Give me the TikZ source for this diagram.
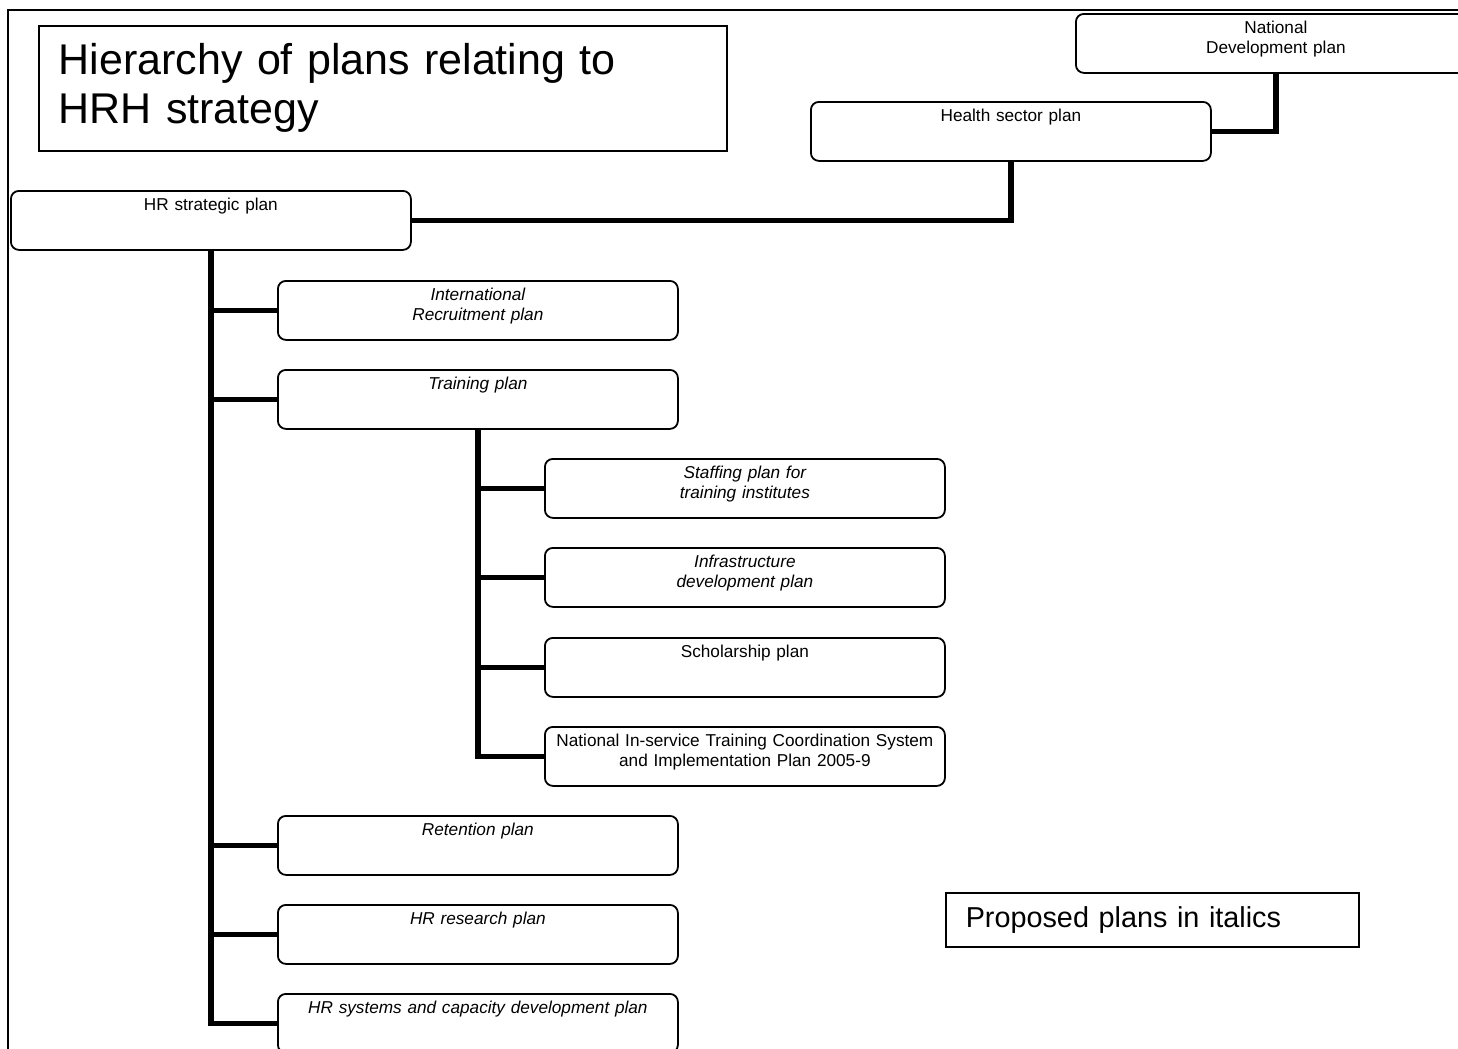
\documentclass[tikz,border=0pt]{standalone}
\usepackage{fontspec}
\setmainfont{Liberation Sans}
\begin{document}
\begin{tikzpicture}[x=0.5pt,y=-0.5pt]
    \tikzstyle{plan}=[draw,rounded corners=4pt,line width=0.9pt,anchor=north west,text width=196pt,inner xsep=2pt,inner ysep=0pt,align=center,text height=10pt,text depth=19.5pt,font=\fontsize{8.6}{10}\selectfont];
    \tikzstyle{proposed}=[plan,font=\fontsize{8.6}{10}\selectfont\itshape];
    \tikzstyle{link}=[line width=2.8pt];
    \tikzstyle{textbox}=[draw,line width=0.75pt,anchor=north west,align=left,inner xsep=10pt];

    \useasboundingbox (0,0) rectangle (1458,1049);
    \clip (0,0) rectangle (1458,1049);
    \draw[line width=0.75pt] (8,1049) -- (8,10) -- (1458,10);

    \node (title) [textbox,minimum height=62.5pt,text width=324pt,font=\fontsize{21.5}{24.5}\selectfont] at (38,25) {Hierarchy of plans relating to\\HRH strategy};
    \node (legend) [textbox,minimum height=27pt,text width=186.5pt,font=\fontsize{14.4}{17}\selectfont] at (945,892) {Proposed plans in italics};

    \node (national) [plan] at (1075,13) {National\\Development plan};
    \node (health) [plan] at (810,101) {Health sector plan};
    \node (hrs) [plan] at (10,190) {HR strategic plan};
    \node (intl) [proposed] at (277,280) {International\\Recruitment plan};
    \node (train) [proposed] at (277,369) {Training plan};
    \node (staff) [proposed] at (544,458) {Staffing plan for\\training institutes};
    \node (infra) [proposed] at (544,547) {Infrastructure\\development plan};
    \node (schol) [plan] at (544,637) {Scholarship plan};
    \node (inserv) [plan] at (544,726) {National In-service Training Coordination System\\and Implementation Plan 2005-9};
    \node (ret) [proposed] at (277,815) {Retention plan};
    \node (res) [proposed] at (277,904) {HR research plan};
    \node (sys) [proposed] at (277,993) {HR systems and capacity development plan};

    \draw[link] (national.south) |- (health.east);
    \draw[link] (health.south) |- (hrs.east);

    \foreach \k in {intl,train,ret,res,sys}{
        \draw[link] (hrs.south) |- (\k.west);
    }

    \foreach \k in {staff,infra,schol,inserv}{
        \draw[link] (train.south) |- (\k.west);
    }

\end{tikzpicture}
\end{document}
